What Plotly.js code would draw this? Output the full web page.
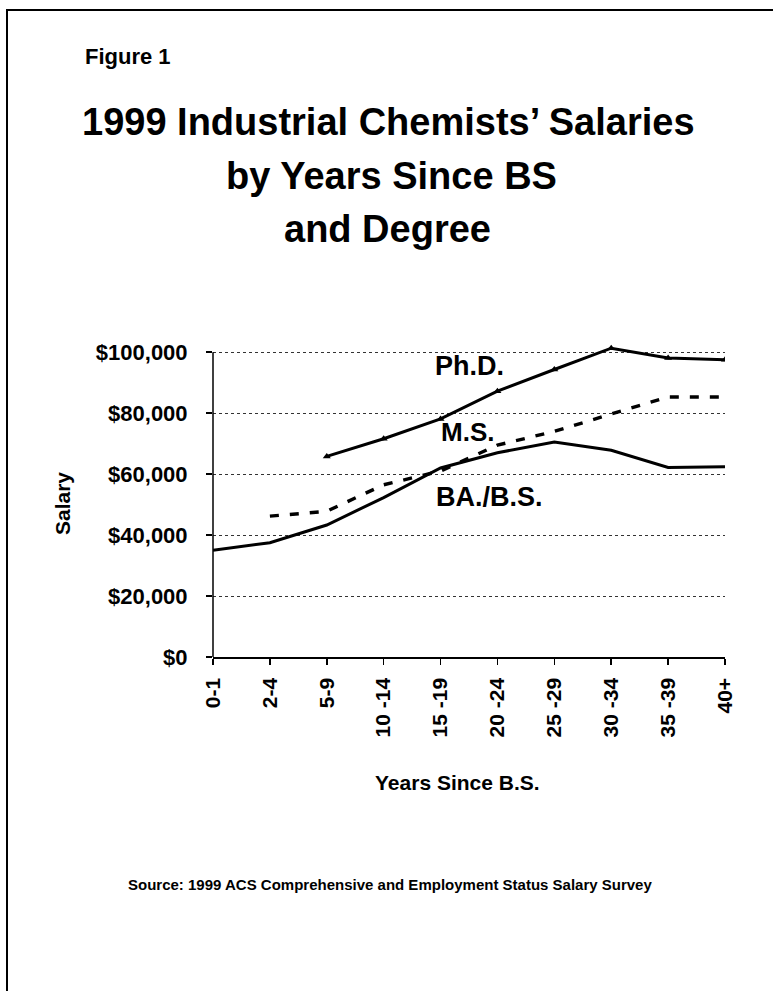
<!DOCTYPE html>
<html><head><meta charset="utf-8">
<script src="https://cdn.plot.ly/plotly-3.0.1.min.js"></script>
<style>
html,body{margin:0;padding:0;background:#fff;}
#frame{position:absolute;left:6px;top:9px;width:767px;height:982px;border-left:2px solid #000;border-top:2px solid #000;box-sizing:border-box;}
#chart{position:absolute;left:0;top:0;width:773px;height:991px;}
</style></head><body>
<div id="frame"></div>
<div id="chart"></div>
<script>
// ---- data ----
const categories = ['0-1','2-4','5-9','10 -14','15 -19','20 -24','25 -29','30 -34','35 -39','40+'];
const baBS   = [35000,37500,43300,52300,62000,67000,70500,67800,62200,62400];
const msVals = [null,46200,47800,56500,61000,69500,74000,79700,85300,85300];
const phdVals= [null,null,65800,71600,78100,87200,94300,101300,98100,97500];
const yTickVals = [0,20000,40000,60000,80000,100000];
const yTickText = ['$0','$20,000','$40,000','$60,000','$80,000','$100,000'];
const seriesNames = ['BA./B.S.','M.S.','Ph.D.'];

// ---- layout helpers (pixel -> paper) ----
const W=773,H=991, L=213, R=725, T=343, B=657;
const px = x => (x-L)/(R-L);
const py = y => (B-y)/(B-T);
const FONT = '"Liberation Sans", Arial, Helvetica, sans-serif';

const traces = [
  {x:categories, y:baBS, name:seriesNames[0], type:'scatter', mode:'lines',
   line:{color:'#000', width:3}},
  {x:categories, y:msVals, name:seriesNames[1], type:'scatter', mode:'lines',
   line:{color:'#000', width:3.4, dash:'9px,11px'}},
  {x:categories, y:phdVals, name:seriesNames[2], type:'scatter', mode:'lines+markers',
   line:{color:'#000', width:3}, marker:{symbol:'triangle-up', size:7, color:'#000'}}
];

function ann(text, x, y, size, opts){
  return Object.assign({text:text, xref:'paper', yref:'paper', x:px(x), y:py(y),
    showarrow:false, xanchor:'center', yanchor:'middle',
    font:{family:FONT, size:size, color:'#000', weight:'bold'}}, opts||{});
}

const layout = {
  width:W, height:H,
  margin:{l:L, r:W-R, t:T, b:H-B, pad:0},
  paper_bgcolor:'rgba(0,0,0,0)', plot_bgcolor:'rgba(0,0,0,0)',
  showlegend:false,
  font:{family:FONT, color:'#000'},
  xaxis:{type:'category', range:[0,9], showgrid:false, zeroline:false,
    showline:true, linecolor:'#000', linewidth:1.5,
    ticks:'outside', ticklen:6, tickwidth:1.5, tickcolor:'#000',
    tickangle:-90, ticklabelstandoff:5,
    tickfont:{family:FONT, size:21, color:'#000', weight:'bold'}},
  yaxis:{range:[0,103000], tickvals:yTickVals, ticktext:yTickText,
    showgrid:true, gridcolor:'#333', gridwidth:1, griddash:'dot',
    zeroline:false, showline:false,
    ticks:'outside', ticklen:6, tickwidth:1.5, tickcolor:'#000',
    ticklabelstandoff:14,
    tickfont:{family:FONT, size:22, color:'#000', weight:'bold'}},
  shapes:[
    {type:'line', xref:'paper', yref:'y', x0:0, x1:0, y0:0, y1:yTickVals[yTickVals.length-1],
     line:{color:'#000', width:1.5}}
  ],
  annotations:[
    ann('Figure 1', 83, 56, 22, {xanchor:'left'}),
    ann('1999 Industrial Chemists\u2019 Salaries', 388, 122, 38),
    ann('by Years Since BS', 391, 176, 38),
    ann('and Degree', 387, 229, 38),
    ann('Salary', 62, 504, 21, {textangle:-90}),
    ann('Years Since B.S.', 457, 782, 21),
    ann('Source: 1999 ACS Comprehensive and Employment Status Salary Survey', 390, 884, 15),
    ann(seriesNames[2], 469, 366, 27),
    ann(seriesNames[1], 467, 432, 26),
    ann(seriesNames[0], 489, 497, 27)
  ]
};

Plotly.newPlot('chart', traces, layout, {displayModeBar:false, staticPlot:true});
</script>
</body></html>
